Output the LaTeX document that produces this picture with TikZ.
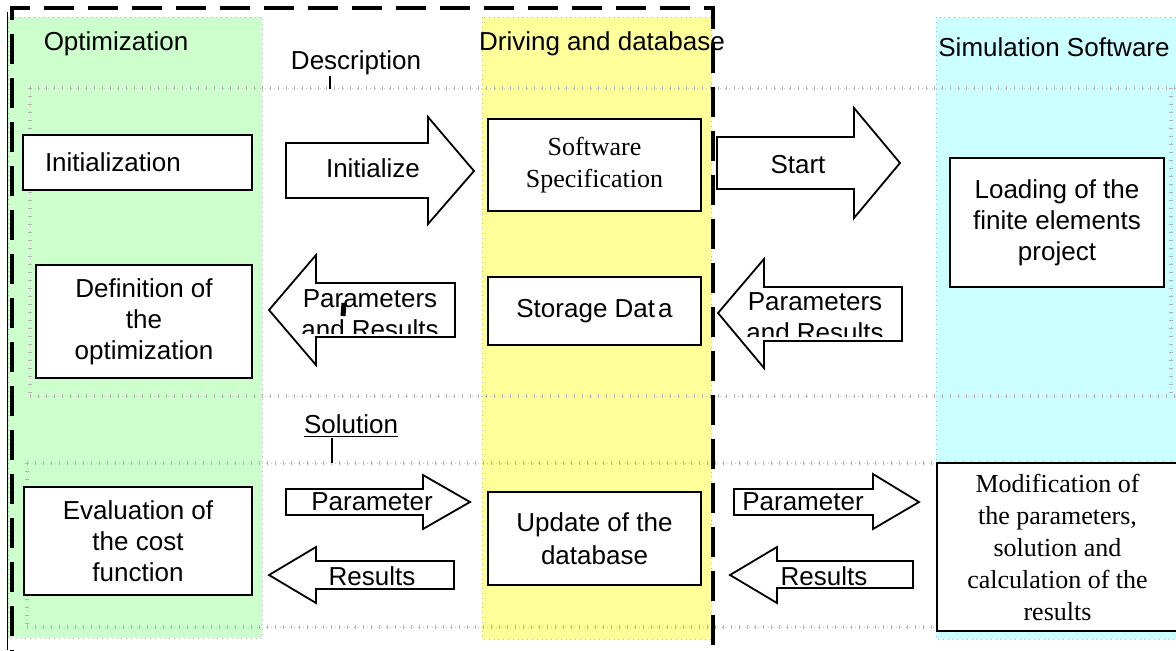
\documentclass[tikz,border=0pt]{standalone}
\usepackage{fontspec}
\setmainfont{Liberation Serif}
\setsansfont{Liberation Sans}
\usepackage{xcolor}
\definecolor{optgreen}{RGB}{204,255,204}
\definecolor{drvyellow}{RGB}{255,255,153}
\definecolor{simcyan}{RGB}{204,255,255}

\begin{document}
\begin{tikzpicture}[x=0.5pt,y=-0.5pt,
  lbl/.style={font=\sffamily\fontsize{13}{15.5}\selectfont,align=center,inner sep=0pt},
  box/.style={draw,line width=1pt,fill=white,align=center,inner sep=2pt,font=\sffamily\fontsize{13}{15.5}\selectfont},
  serifbox/.style={box,font=\rmfamily\fontsize{13}{16}\selectfont},
  blockarrow/.style={draw,line width=0.9pt,fill=white,line join=miter},
  column/.style={draw=gray!55,line width=0.4pt,dotted},
  lane/.style={gray!45,line width=0.3pt,dotted,postaction={draw,gray!60,line width=2pt,dash pattern=on 0.5pt off 3.5pt}}]
\useasboundingbox (0,0) rectangle (1176,650);
\clip (0,0) rectangle (1176,650);

% the three columns
\draw[column,fill=optgreen] (8,17) rectangle (262,638);
\draw[column,fill=drvyellow] (482,17) rectangle (711,639);
\draw[column,fill=simcyan] (936,17) rectangle (1185,639);

% lane separators
\foreach \y in {88,396} \draw[lane] (30,\y) -- (1176,\y);
\foreach \y in {463,627} \draw[lane] (27,\y) -- (1176,\y);
\draw[lane] (30,88) -- (30,396);
\draw[lane] (27,463) -- (27,627);
\draw[lane] (1171,88) -- (1171,396);
\draw[lane] (1171,463) -- (1171,627);

% outer frame
\draw[line width=0.4pt] (7,12) -- (7,650);
\draw[line width=2pt,dash pattern=on 15pt off 7pt] (12,680) -- (12,8) -- (713,8) -- (713,680);

% titles
\node[lbl] (opt) at (116,44) {Optimization};
\node[lbl] (desc) at (356,63) {Description};
\node[lbl] (drv) at (602,44) {Driving and database};
\node[lbl] (sim) at (1054,47) {Simulation Software};
\node[lbl] (sol) at (351,426) {\underline{Solution}};
\coordinate (descfoot) at (330,89);
\coordinate (solfoot) at (332,463);
\draw[line width=0.8pt] (desc.south -| descfoot) -- (descfoot);
\draw[line width=0.8pt] (sol.south -| solfoot) -- (solfoot);

% boxes
\node[box,minimum height=27.5pt,inner xsep=11pt,text width=92.5pt,align=left] (init) at (137.5,162.5) {Initialization};
\node[box,minimum width=108pt,minimum height=56.5pt] (defn) at (144,321.5) {Definition of\\the\\optimization};
\node[box,minimum width=114pt,minimum height=54pt] (evalf) at (138,541) {Evaluation of\\the cost\\function};
\node[serifbox,minimum width=106.5pt,minimum height=46pt] (spec) at (594.5,165) {Software\\Specification};
\node[box,minimum width=106.5pt,minimum height=34pt] (store) at (594.5,311) {Storage Dat\hspace{1.5pt}a};
\node[box,minimum width=106.5pt,minimum height=46.5pt,font=\sffamily\fontsize{13}{16.5}\selectfont] (update) at (594.5,538.5) {Update of the\\database};
\node[box,minimum width=107pt,minimum height=64.5pt] (load) at (1057,222.5) {Loading of the\\finite elements\\project};
\node[serifbox,line width=1.4pt,minimum width=120.5pt,minimum height=84pt] (modif) at (1057.5,547) {Modification of\\the parameters,\\solution and\\calculation of the\\results};

% upper lane arrows
\draw[blockarrow] (286,143) -- (428,143) -- (428,117) -- (474,171) -- (428,224) -- (428,198) -- (286,198) -- cycle;
\node[lbl] (initarr) at (373,168) {Initialize};
\draw[blockarrow] (717,137) -- (854,137) -- (854,108) -- (900,163) -- (854,218) -- (854,189) -- (717,189) -- cycle;
\node[lbl] (startarr) at (798,165) {Start};
\draw[blockarrow] (455,283) -- (316,283) -- (316,255) -- (269,310) -- (316,365) -- (316,337) -- (455,337) -- cycle;
\begin{scope}
\clip (260,250) rectangle (470,333);
\node[lbl] (parres) at (370,314) {Parameters\\and Results};
\end{scope}
\draw[line width=2.5pt] (344,303) -- (343,316);
\draw[blockarrow] (902,287) -- (764,287) -- (764,259) -- (718,313) -- (764,368) -- (764,341) -- (902,341) -- cycle;
\begin{scope}
\clip (710,250) rectangle (915,336);
\node[lbl] (parres2) at (815,317) {Parameters\\and Results};
\end{scope}

% lower lane arrows
\draw[blockarrow] (286,489) -- (423,489) -- (423,475) -- (470,502) -- (423,529) -- (423,515) -- (286,515) -- cycle;
\node[lbl] (parleft) at (372,502) {Parameter};
\draw[blockarrow] (454,561) -- (316,561) -- (316,547) -- (269,575) -- (316,603) -- (316,589) -- (454,589) -- cycle;
\node[lbl] (resleft) at (372,576) {Results};
\draw[blockarrow] (734,489) -- (873,489) -- (873,474) -- (919,502) -- (873,529) -- (873,515) -- (734,515) -- cycle;
\node[lbl] (parright) at (803,502) {Parameter};
\draw[blockarrow] (913,561) -- (777,561) -- (777,547) -- (730,575) -- (777,603) -- (777,588) -- (913,588) -- cycle;
\node[lbl] (resright) at (824,576) {Results};
\end{tikzpicture}
\end{document}
